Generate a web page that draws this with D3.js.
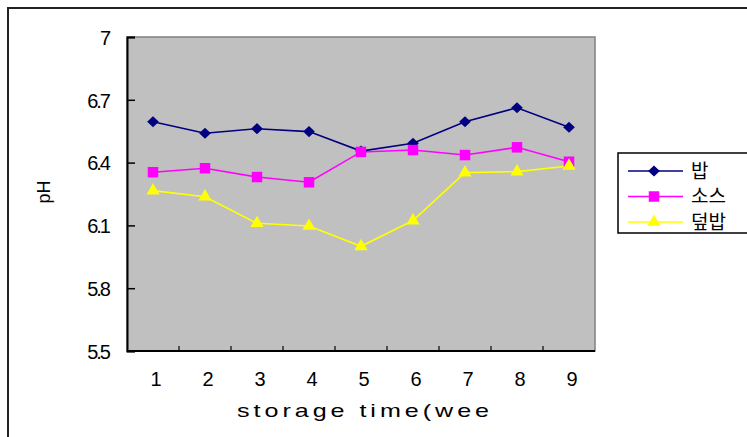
<!DOCTYPE html>
<html>
<head>
<meta charset="utf-8">
<script src="https://cdn.jsdelivr.net/npm/d3@7"></script>
<style>
  html, body { margin: 0; padding: 0; background: #fff; }
  svg { display: block; }
  text { font-family: "Liberation Sans", Arial, sans-serif; fill: #000; }
</style>
</head>
<body>
<svg id="chart" width="747" height="437"></svg>
<script>
// Storage weeks on the x axis
const weeks = [1, 2, 3, 4, 5, 6, 7, 8, 9];
// pH readings per product
const seriesNames = ["밥", "소스", "덮밥"];
const rice  = [6.595, 6.54, 6.562, 6.548, 6.455, 6.492, 6.595, 6.662, 6.569];
const sauce = [6.354, 6.373, 6.331, 6.306, 6.451, 6.46, 6.436, 6.473, 6.404];
const bowl  = [6.266, 6.237, 6.11, 6.097, 6.0, 6.123, 6.352, 6.357, 6.384];
const yTicks = [5.5, 5.8, 6.1, 6.4, 6.7, 7.0];
const yTickLabels = ["5.5", "5.8", "6.1", "6.4", "6.7", "7"];
const xTitle = "storage time(wee";
const yTitle = "pH";

// Diamond drawn as a square turned 45 degrees
const squareDiamond = {
  draw(ctx, size) {
    const r = Math.sqrt(size / 2);
    ctx.moveTo(0, -r);
    ctx.lineTo(r * 1.05, 0);
    ctx.lineTo(0, r);
    ctx.lineTo(-r * 1.05, 0);
    ctx.closePath();
  }
};

const series = [
  { name: seriesNames[0], values: rice,  color: "#000080", symbol: squareDiamond,    size: 62 },
  { name: seriesNames[1], values: sauce, color: "#ff00ff", symbol: d3.symbolSquare,  size: 110 },
  { name: seriesNames[2], values: bowl,  color: "#ffff00", symbol: d3.symbolTriangle, size: 75 }
];

const svg = d3.select("#chart");
const plot = { left: 127, right: 595, top: 37, bottom: 351 };

const x = d3.scaleBand().domain(weeks).range([plot.left, plot.right]).padding(0);
const y = d3.scaleLinear().domain([5.5, 7]).range([plot.bottom, plot.top]);

// Outer chart frame (runs off the right and bottom edges)
svg.append("rect")
  .attr("x", 8).attr("y", 8).attr("width", 800).attr("height", 500)
  .attr("fill", "none").attr("stroke", "#222").attr("stroke-width", 2);

// Plot area background
svg.append("rect")
  .attr("x", plot.left).attr("y", plot.top)
  .attr("width", plot.right - plot.left).attr("height", plot.bottom - plot.top)
  .attr("fill", "#c0c0c0").attr("stroke", "#808080").attr("stroke-width", 1.5);

// Y axis, ticks pointing inward
const yAxis = d3.axisRight(y)
  .tickValues(yTicks)
  .tickSize(8)
  .tickFormat((d, i) => yTickLabels[i]);
const yg = svg.append("g").attr("transform", `translate(${plot.left},0)`).call(yAxis);
yg.select(".domain").attr("stroke", "#000").attr("stroke-width", 2);
yg.selectAll(".tick line").attr("stroke", "#000").attr("stroke-width", 1.5);
yg.selectAll(".tick text")
  .attr("x", -18).attr("dy", "0.36em")
  .attr("text-anchor", "end")
  .style("font-size", "20px")
  .style("letter-spacing", "-2px")
  .style("font-family", "'Liberation Sans', Arial, sans-serif");

// X axis: ticks on band boundaries, labels at band centres
const xg = svg.append("g").attr("transform", `translate(0,${plot.bottom})`);
xg.append("line")
  .attr("x1", plot.left).attr("x2", plot.right)
  .attr("stroke", "#000").attr("stroke-width", 2);
xg.selectAll(".xtick").data(weeks.slice(1)).join("line")
  .attr("class", "xtick")
  .attr("x1", d => x(d)).attr("x2", d => x(d))
  .attr("y1", 0).attr("y2", -5)
  .attr("stroke", "#000").attr("stroke-width", 1.2);
xg.selectAll(".xlabel").data(weeks).join("text")
  .attr("class", "xlabel")
  .attr("x", d => x(d) + x.bandwidth() / 2 + 3)
  .attr("y", 35)
  .attr("text-anchor", "middle")
  .style("font-size", "20px")
  .text(d => d);

// Axis titles
svg.append("text")
  .attr("x", 237).attr("y", 417)
  .attr("textLength", 256).attr("lengthAdjust", "spacingAndGlyphs")
  .style("font-size", "19px")
  .style("letter-spacing", "3px")
  .text(xTitle);

svg.append("text")
  .attr("transform", "translate(50,192) rotate(-90)")
  .attr("text-anchor", "middle")
  .style("font-size", "18px")
  .text(yTitle);

// Lines and markers
const line = d3.line()
  .x((d, i) => x(weeks[i]) + x.bandwidth() / 2)
  .y(d => y(d));

series.forEach(s => {
  svg.append("path")
    .datum(s.values)
    .attr("d", line)
    .attr("fill", "none")
    .attr("stroke", s.color)
    .attr("stroke-width", 1.6);
});
series.forEach(s => {
  const sym = d3.symbol().type(s.symbol).size(s.size);
  svg.selectAll(null).data(s.values).join("path")
    .attr("transform", (d, i) => `translate(${x(weeks[i]) + x.bandwidth() / 2},${y(d)})`)
    .attr("d", sym)
    .attr("fill", s.color);
});

// Legend
const legend = svg.append("g");
legend.append("rect")
  .attr("x", 618).attr("y", 153).attr("width", 200).attr("height", 80)
  .attr("fill", "#fff").attr("stroke", "#000").attr("stroke-width", 1.5);
series.forEach((s, i) => {
  const ly = 171 + i * 25.5;
  legend.append("line")
    .attr("x1", 628).attr("x2", 683).attr("y1", ly).attr("y2", ly)
    .attr("stroke", s.color).attr("stroke-width", 1.6);
  legend.append("path")
    .attr("transform", `translate(654,${ly})`)
    .attr("d", d3.symbol().type(s.symbol).size(s.size)())
    .attr("fill", s.color);
  legend.append("text")
    .attr("x", 691).attr("y", ly).attr("dy", "0.36em")
    .style("font-family", "'Noto Sans CJK KR', sans-serif")
    .style("font-size", "19px")
    .text(s.name);
});
</script>
</body>
</html>
